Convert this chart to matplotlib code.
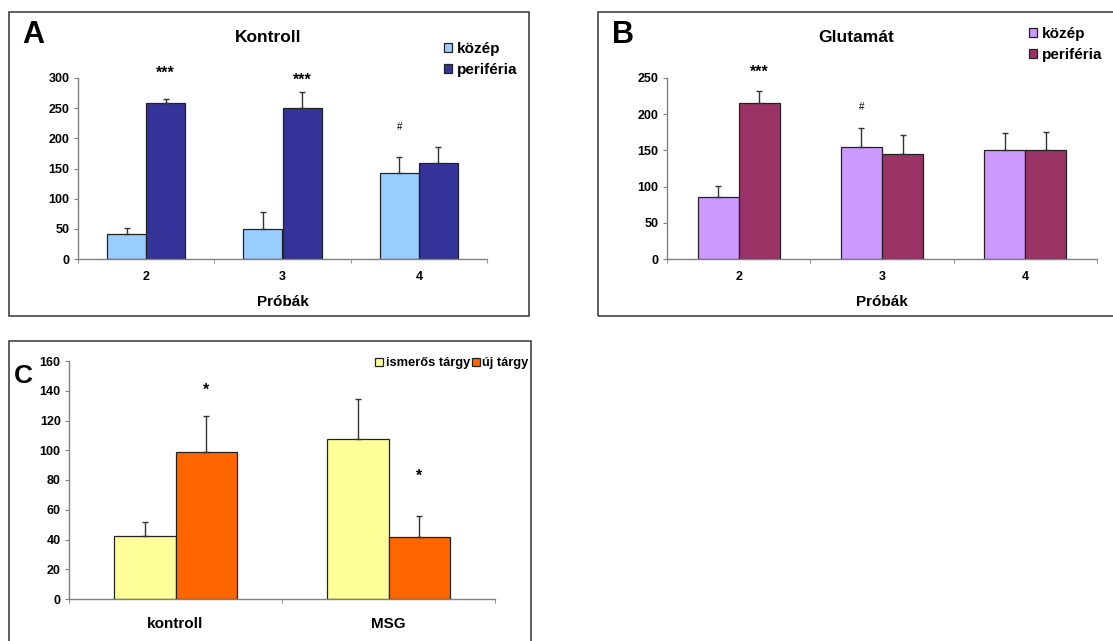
import matplotlib
matplotlib.use('Agg')
import matplotlib.pyplot as plt
import matplotlib.patches as mpatches
import numpy as np

plt.rcParams['font.family'] = ['Liberation Sans', 'DejaVu Sans']
plt.rcParams['font.weight'] = 'bold'

W, H = 1113, 641

# --- data ---
trials = ['2', '3', '4']
groups_c = ['kontroll', 'MSG']

a_center = [42, 50, 142]
a_center_err = [9, 28, 27]
a_periph = [258, 250, 159]
a_periph_err = [7, 27, 27]

b_center = [85, 155, 150]
b_center_err = [16, 26, 24]
b_periph = [216, 145, 151]
b_periph_err = [16, 26, 24]

c_known = [42.5, 107.5]
c_known_err = [9, 27]
c_new = [99, 42]
c_new_err = [24, 13.5]

# significance marks: (group index, series 0/1, y value, text)
a_marks = [(0, 1, 308, '***'), (1, 1, 297, '***'), (2, 0, 219, '#')]
b_marks = [(0, 1, 258, '***'), (1, 0, 210, '#')]
c_marks = [(0, 1, 140, '*'), (1, 1, 82.5, '*')]

BW = 0.287
EDGE = '#222222'
AXC = '#808080'


def px_axes(fig, x0, y0, x1, y1):
    # pixel box (top-left origin) -> figure axes
    return fig.add_axes([x0 / W, 1 - y1 / H, (x1 - x0) / W, (y1 - y0) / H])


def px_box(fig, x0, y0, x1, y1):
    r = mpatches.Rectangle((x0 / W, 1 - y1 / H), (x1 - x0) / W, (y1 - y0) / H,
                           transform=fig.transFigure, fill=False,
                           edgecolor='#333333', linewidth=1.1)
    fig.patches.append(r)


def bar_panel(ax, cats, s1, e1, s2, e2, c1, c2, ymax, ystep, marks, lab_pad):
    x = np.arange(len(cats))
    ek = dict(elinewidth=1, ecolor='#333333', capthick=1)
    b1 = ax.bar(x - BW / 2, s1, BW, color=c1, edgecolor=EDGE, linewidth=0.9,
                yerr=[np.zeros(len(s1)), e1], capsize=2.5, error_kw=ek)
    b2 = ax.bar(x + BW / 2, s2, BW, color=c2, edgecolor=EDGE, linewidth=0.9,
                yerr=[np.zeros(len(s2)), e2], capsize=2.5, error_kw=ek)
    ax.set_xlim(-0.5, len(cats) - 0.5)
    ax.set_ylim(0, ymax)
    ax.set_yticks(np.arange(0, ymax + 1, ystep))
    ax.set_xticks(x)
    ax.set_xticklabels(cats)
    ax.set_xticks(np.arange(-0.5, len(cats), 1.0), minor=True)
    for s in ['top', 'right']:
        ax.spines[s].set_visible(False)
    for s in ['left', 'bottom']:
        ax.spines[s].set_color(AXC)
        ax.spines[s].set_linewidth(1)
    ax.tick_params(axis='x', which='major', length=0, pad=lab_pad)
    ax.tick_params(axis='x', which='minor', length=3, color=AXC, direction='out')
    ax.tick_params(axis='y', length=3, color=AXC, pad=3, labelsize=9)
    ax.patch.set_alpha(0)
    for gi, si, yv, txt in marks:
        xp = gi + (BW / 2 if si else -BW / 2)
        if txt == '#':
            ax.text(xp, yv, txt, ha='center', va='center', fontsize=7,
                    fontweight='normal')
        else:
            ax.text(xp, yv, txt, ha='center', va='center', fontsize=11.5)
    return b1, b2


fig = plt.figure(figsize=(W / 100, H / 100), dpi=100)
fig.patch.set_facecolor('white')

# panel A
px_box(fig, 9, 12, 529, 316)
axA = px_axes(fig, 78, 78, 487, 259)
bA1, bA2 = bar_panel(axA, trials, a_center, a_center_err, a_periph, a_periph_err,
                     '#99CCFF', '#333399', 300, 50, a_marks, 9)
axA.tick_params(axis='x', labelsize=9)
fig.text(22 / W, 1 - 35 / H, 'A', fontsize=22, ha='left', va='center')
fig.text(268 / W, 1 - 37 / H, 'Kontroll', fontsize=12.5, ha='center', va='center')
fig.text(283 / W, 1 - 302 / H, 'Próbák', fontsize=11, ha='center', va='center')
axA.legend([bA1, bA2], ['közép', 'periféria'], loc='upper left',
           bbox_to_anchor=(436 / W, 1 - 34 / H), bbox_transform=fig.transFigure,
           frameon=False, fontsize=11, borderpad=0, handlelength=0.55,
           handleheight=0.55, handletextpad=0.3, labelspacing=0.45)

# panel B
px_box(fig, 598, 12, 1140, 316)
axB = px_axes(fig, 667, 78, 1097, 259)
bB1, bB2 = bar_panel(axB, trials, b_center, b_center_err, b_periph, b_periph_err,
                     '#CC99FF', '#993366', 250, 50, b_marks, 9)
axB.tick_params(axis='x', labelsize=9)
fig.text(612 / W, 1 - 35 / H, 'B', fontsize=22, ha='left', va='center')
fig.text(856 / W, 1 - 37 / H, 'Glutamát', fontsize=12.5, ha='center', va='center')
fig.text(882 / W, 1 - 302 / H, 'Próbák', fontsize=11, ha='center', va='center')
axB.legend([bB1, bB2], ['közép', 'periféria'], loc='upper left',
           bbox_to_anchor=(1021 / W, 1 - 19 / H), bbox_transform=fig.transFigure,
           frameon=False, fontsize=11, borderpad=0, handlelength=0.55,
           handleheight=0.55, handletextpad=0.3, labelspacing=0.45)

# panel C
px_box(fig, 9, 341, 531, 660)
axC = px_axes(fig, 69, 361, 495, 599)
bC1, bC2 = bar_panel(axC, groups_c, c_known, c_known_err, c_new, c_new_err,
                     '#FFFF99', '#FF6600', 160, 20, c_marks, 13)
axC.tick_params(axis='x', labelsize=11)
fig.text(14 / W, 1 - 376 / H, 'C', fontsize=19, ha='left', va='center')
axC.legend([bC1, bC2], ['ismerős tárgy', 'új tárgy'], loc='upper left',
           bbox_to_anchor=(369 / W, 1 - 351 / H), bbox_transform=fig.transFigure,
           frameon=False, fontsize=9.3, borderpad=0, ncol=2, columnspacing=0.15,
           handlelength=0.6, handleheight=0.6, handletextpad=0.2)

fig.savefig('out.png', dpi=100, facecolor='white')
